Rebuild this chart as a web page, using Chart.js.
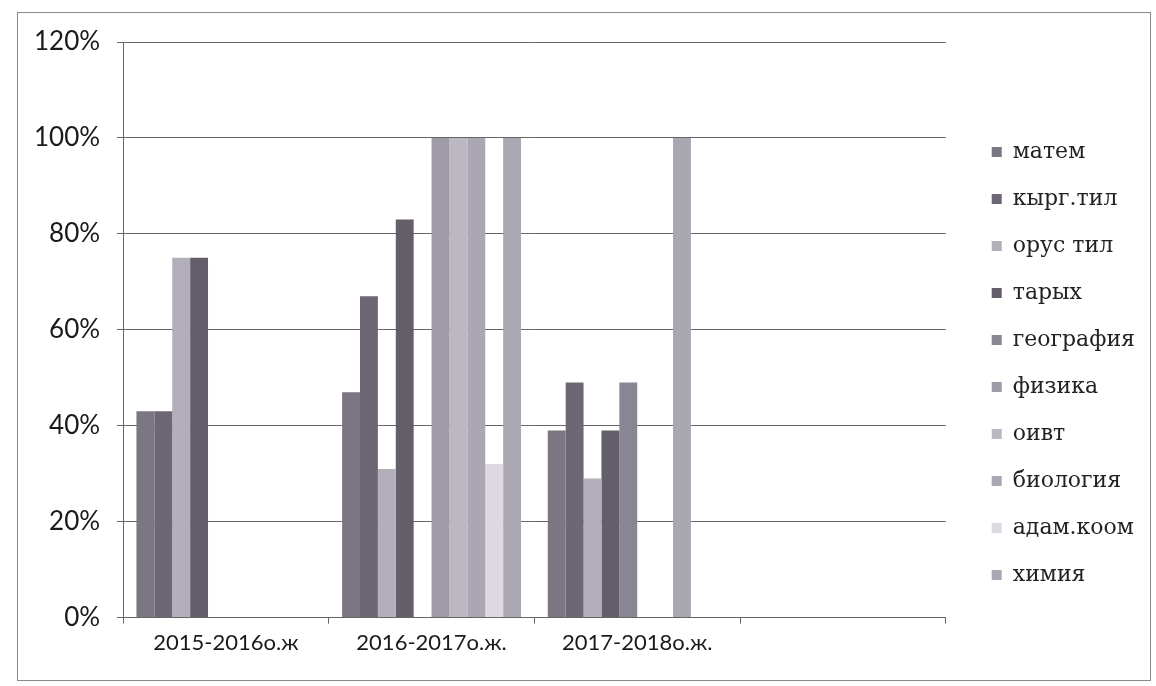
<!DOCTYPE html>
<html>
<head>
<meta charset="utf-8">
<script src="https://cdn.jsdelivr.net/npm/chart.js@4"></script>
<style>
    html, body { margin: 0; padding: 0; background: #fff; }
    #wrap { position: relative; width: 1156px; height: 686px; }
    #frame {
        position: absolute; left: 17px; top: 12px; width: 1132px; height: 667px;
        border: 1px solid #8a8a8a; pointer-events: none;
    }
</style>
</head>
<body>
<div id="wrap">
    <canvas id="chart" width="1156" height="686"></canvas>
    <div id="frame"></div>
</div>
<script>
const years = ['2015-2016о.ж', '2016-2017о.ж.', '2017-2018о.ж.', ''];

const subjects = ['матем', 'кырг.тил', 'орус тил', 'тарых', 'география', 'физика', 'оивт', 'биология', 'адам.коом', 'химия'];

// per subject, values by year (%)
const matem = [43, 47, 39, null];
const kyrgTil = [43, 67, 49, null];
const orusTil = [75, 31, 29, null];
const tarykh = [75, 83, 39, null];
const geografiya = [0, 0, 49, null];
const fizika = [0, 100, 0, null];
const oivt = [0, 100, 0, null];
const biologiya = [0, 100, 100, null];
const adamKoom = [0, 32, 0, null];
const khimiya = [0, 100, 0, null];

const yTicks = [0, 20, 40, 60, 80, 100, 120];

const seriesValues = [matem, kyrgTil, orusTil, tarykh, geografiya, fizika, oivt, biologiya, adamKoom, khimiya];
const colors = ['#7b7682', '#6d6674', '#b3afba', '#645d6a', '#8a8592', '#9e9aa6', '#bbb8c2', '#aaa6b2', '#dcd9e1', '#aba7b3'];

const datasets = subjects.map((name, i) => ({
    label: name,
    data: seriesValues[i],
    backgroundColor: colors[i],
    borderWidth: 0,
    categoryPercentage: 0.87,
    barPercentage: 1.0,
}));

new Chart(document.getElementById('chart'), {
    type: 'bar',
    data: { labels: years, datasets },
    options: {
        responsive: false,
        animation: false,
        layout: { padding: { left: 17, right: 11, top: 42, bottom: 24 } },
        plugins: {
            tooltip: { enabled: false },
            legend: {
                position: 'right',
                align: 'start',
                title: { display: true, text: '', font: { size: 10 }, padding: { top: 62, bottom: 0 } },
                labels: {
                    boxWidth: 10,
                    boxHeight: 10,
                    padding: 25,
                    color: '#222',
                    font: { family: 'DejaVu Serif', size: 22 },
                },
            },
        },
        scales: {
            x: {
                grid: { drawOnChartArea: false, tickLength: 6, color: '#666', offset: true },
                border: { color: '#666', width: 1 },
                ticks: { color: '#1a1a1a', padding: 6, font: { family: 'Lato', size: 22 } },
            },
            y: {
                min: 0,
                max: 120,
                afterBuildTicks: (scale) => { scale.ticks = yTicks.map(v => ({ value: v })); },
                grid: { color: '#666', tickLength: 6 },
                border: { color: '#666', width: 1 },
                ticks: {
                    color: '#1a1a1a',
                    padding: 17,
                    font: { family: 'Lato', size: 26 },
                    callback: (v) => v + '%',
                },
            },
            spacer: {
                position: 'right',
                display: true,
                grid: { display: false },
                border: { display: false },
                ticks: { display: false },
                afterFit: (scale) => { scale.width = 21; },
            },
        },
    },
});
</script>
</body>
</html>
